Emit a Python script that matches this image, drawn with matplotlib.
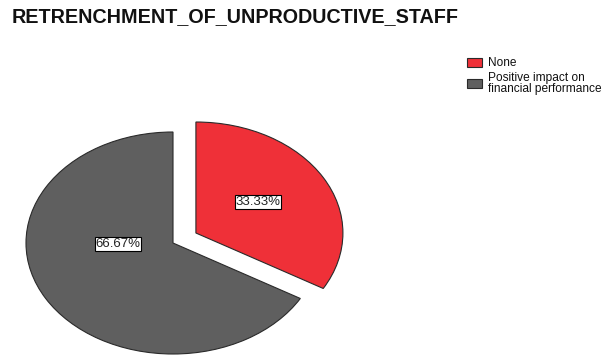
import matplotlib
matplotlib.use("Agg")
import matplotlib.pyplot as plt

title = "RETRENCHMENT_OF_UNPRODUCTIVE_STAFF"
categories = ["None", "Positive impact on\nfinancial performance"]
percentages = [33.33, 66.67]
colors = ["#EF3038", "#5F5F5F"]
explode = [0.18, 0.0]

plt.rcParams["font.family"] = ["Liberation Sans", "DejaVu Sans"]

W, H = 613, 356
fig = plt.figure(figsize=(W / 100, H / 100), dpi=100)

# pie drawn in a stretched axes (horizontal radius 147 px, vertical 111 px)
cx, cy, rx, ry = 173, 243, 147, 111
xl, xr = -1.1, 1.5
yb, yt = -1.02, 1.3
ax = fig.add_axes([(cx + xl * rx) / W, (H - (cy - yb * ry)) / H,
                   (xr - xl) * rx / W, (yt - yb) * ry / H])

wedges, texts, autotexts = ax.pie(
    percentages, colors=colors, explode=explode, startangle=90,
    counterclock=False, autopct="%.2f%%", pctdistance=0.5,
    wedgeprops=dict(edgecolor="#2a2a2a", linewidth=0.8),
    textprops=dict(fontsize=9.5, color="#222222"))
ax.set_aspect("auto")
ax.set_xlim(xl, xr)
ax.set_ylim(yb, yt)
ax.axis("off")

label_pos = [(0.578, 0.369), (-0.374, -0.01)]
for t, pos in zip(autotexts, label_pos):
    t.set_position(pos)
    t.set_bbox(dict(boxstyle="square,pad=0.06", facecolor="white",
                    edgecolor="black", linewidth=0.8))

fig.text(12 / W, 1 - 17 / H, title, fontsize=14.2, fontweight="bold",
         ha="left", va="center", color="#111111")

leg = fig.legend(wedges, categories, loc="upper left",
                 bbox_to_anchor=(459 / W, 1 - 49 / H), frameon=False,
                 prop=dict(size=8.6),
                 handlelength=1.25, handleheight=0.75,
                 handletextpad=0.5, labelspacing=0.2, borderpad=0.2)
for h in leg.legend_handles:
    h.set_edgecolor("#2a2a2a")
    h.set_linewidth(0.8)
for t in leg.get_texts():
    t.set_color("#111111")
    t.set_linespacing(0.95)

fig.savefig("out.png", dpi=100)
